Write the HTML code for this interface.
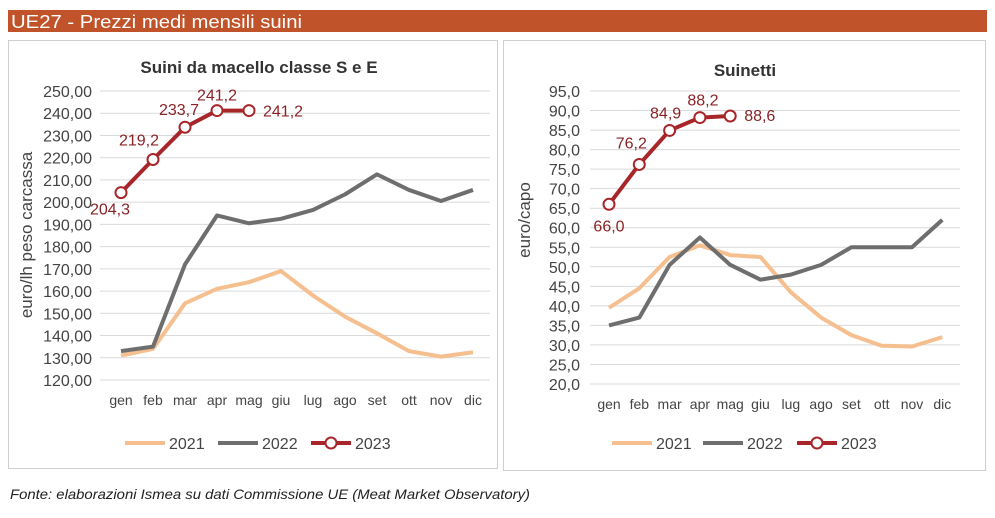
<!DOCTYPE html>
<html><head><meta charset="utf-8"><style>
body{margin:0;width:995px;height:513px;background:#fff;font-family:"Liberation Sans",sans-serif;overflow:hidden}
</style></head><body>
<svg id="s" width="995" height="513" xmlns="http://www.w3.org/2000/svg" font-family="Liberation Sans, sans-serif">
<rect x="8" y="10" width="979" height="22" fill="#c0532a"/>
<text x="11" y="28" fill="#fff" font-size="18" textLength="291" lengthAdjust="spacingAndGlyphs">UE27 - Prezzi medi mensili suini</text>
<rect x="8.5" y="40.5" width="489" height="428" fill="#fff" stroke="#cfcfcf"/>
<rect x="503.5" y="40.5" width="482" height="430" fill="#fff" stroke="#cfcfcf"/>
<text x="259" y="73" text-anchor="middle" font-size="17" font-weight="bold" fill="#333">Suini da macello classe S e E</text>
<text x="745" y="76" text-anchor="middle" font-size="17" font-weight="bold" fill="#333">Suinetti</text>
<text transform="translate(32,235) rotate(-90)" text-anchor="middle" font-size="17" fill="#444">euro/lh peso carcassa</text>
<text transform="translate(530,220) rotate(-90)" text-anchor="middle" font-size="17" fill="#444">euro/capo</text>
<text x="10" y="499" font-size="14" font-style="italic" fill="#222" textLength="520" lengthAdjust="spacingAndGlyphs">Fonte: elaborazioni Ismea su dati Commissione UE (Meat Market Observatory)</text>
<g id="L"></g><g id="R"></g>
</svg>
<script>
const months=["gen","feb","mar","apr","mag","giu","lug","ago","set","ott","nov","dic"];
const leftTicks=[120,130,140,150,160,170,180,190,200,210,220,230,240,250];
const left2021=[131,134,154.5,161,164,169,158,148.5,141,133,130.5,132.5];
const left2022=[133,135,172,194,190.5,192.5,196.5,203.5,212.5,205.5,200.5,205.5];
const left2023=[204.3,219.2,233.7,241.2,241.2];
const rightTicks=[20,25,30,35,40,45,50,55,60,65,70,75,80,85,90,95];
const right2021=[39.5,44.5,52.5,55.5,53,52.5,43.5,37,32.5,29.8,29.6,32];
const right2022=[35,37,50.5,57.5,50.5,46.7,48,50.5,55,55,55,62];
const right2023=[66,76.2,84.9,88.2,88.6];
const NS="http://www.w3.org/2000/svg";
function mk(p,t,a){const e=document.createElementNS(NS,t);for(const k in a)e.setAttribute(k,a[k]);p.appendChild(e);return e;}
function chart(g,o){
 const x=i=>o.x0+i*o.dx, y=v=>o.y0+(v-o.vmin)/(o.vmax-o.vmin)*(o.y1-o.y0);
 o.ticks.forEach(t=>{
  const l=mk(g,"line",{x1:o.gx0,x2:o.gx1,y1:y(t),y2:y(t),stroke:"#d9d9d9","stroke-width":1});
  
  
  const tx=mk(g,"text",{x:o.tx,y:y(t)+6,"text-anchor":"end","font-size":16,fill:"#444"});
  tx.textContent=t.toFixed(o.dec).replace(".",",");
  
  
 });
 months.forEach((m,i)=>{
  const tx=mk(g,"text",{x:x(i),y:o.y0+25,"text-anchor":"middle","font-size":14,fill:"#444"});
  tx.textContent=m;
  
  
 });
 const line=(d,c,n)=>{const p=mk(g,"polyline",{points:d.map((v,i)=>x(i)+","+y(v)).join(" "),fill:"none",stroke:c,"stroke-width":4,"stroke-linejoin":"round"});
  
  };
 line(o.a,"#f5bf8f","line-2021");line(o.b,"#6e6e6e","line-2022");line(o.c,"#a8262a","line-2023");
 o.c.forEach((v,i)=>{
  const c=mk(g,"circle",{cx:x(i),cy:y(v),r:5.5,fill:"#fff",stroke:"#a8262a","stroke-width":2});
  
  
  const off=o.lab[i];
  const t=mk(g,"text",{x:x(i)+off[0],y:y(v)+off[1],"text-anchor":off[2],"font-size":16,fill:"#8a2226"});
  t.textContent=v.toFixed(1).replace(".",",");
  
  
 });
 const ly=o.ly,cols=["#f5bf8f","#6e6e6e","#a8262a"],names=["2021","2022","2023"];
 o.lx.forEach((lx,i)=>{
  const l=mk(g,"line",{x1:lx,x2:lx+40,y1:ly,y2:ly,stroke:cols[i],"stroke-width":4});
  
  
  if(i==2){const c=mk(g,"circle",{cx:lx+20,cy:ly,r:5.5,fill:"#fff",stroke:cols[i],"stroke-width":2});
   
   }
  const t=mk(g,"text",{x:lx+44,y:ly+6,"font-size":16,fill:"#444"});t.textContent=names[i];
  
  
 });
}
chart(document.getElementById("L"),{x0:121,dx:32,y0:380,y1:91,vmin:120,vmax:250,gx0:100,gx1:490,tx:92,dec:2,ticks:leftTicks,a:left2021,b:left2022,c:left2023,
 lab:[[-11,22,"middle"],[-14,-14,"middle"],[-6,-12,"middle"],[0,-10,"middle"],[14,6,"start"]],ly:443,lx:[125,218,311]});
chart(document.getElementById("R"),{x0:609,dx:30.3,y0:384,y1:91,vmin:20,vmax:95,gx0:590,gx1:960,tx:580,dec:1,ticks:rightTicks,a:right2021,b:right2022,c:right2023,
 lab:[[0,27,"middle"],[-8,-16,"middle"],[-4,-12,"middle"],[3,-12,"middle"],[14,5,"start"]],ly:443,lx:[612,703,797]});
</script>
</body></html>
